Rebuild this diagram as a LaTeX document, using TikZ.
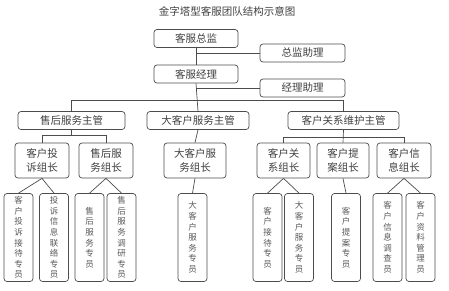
\documentclass[tikz,border=0pt]{standalone}
\usepackage{fontspec}
\usepackage{tikz}
\usetikzlibrary{positioning}
\newfontfamily\cjk{Noto Sans CJK SC}
\definecolor{lgray}{rgb}{0.3, 0.3, 0.3}
\tikzset{box/.style = {draw=lgray, rounded corners=3pt, line width=0.7pt, inner sep=0pt,
                       text=black!75, font=\cjk\fontsize{10.5}{13}\selectfont}}
\tikzset{zubox/.style = {box, align=center, minimum height=35,
                         font=\cjk\fontsize{10.5}{14}\selectfont}}
\tikzset{yuanbox/.style = {box, align=center, minimum width=29, minimum height=88,
                           text=black!65, font=\cjk\fontsize{8.5}{10.6}\selectfont}}
\tikzset{link/.style = {draw=lgray, line width=0.7pt}}
\tikzset{every picture/.style={x=1pt, y=-1pt}}

\begin{document}
\begin{tikzpicture}

      \useasboundingbox (0,0) rectangle (449,290);

      \node[text=black!75, font=\cjk\fontsize{10.5}{12}\selectfont] (title) at (227,11) {金字塔型客服团队结构示意图};

      \node[box, minimum width=84, minimum height=18] (zj)   at (196,38.5)  {客服总监};
      \node[box, minimum width=85, minimum height=18] (zjzl) at (302.5,53)  {总监助理};
      \node[box, minimum width=84, minimum height=18] (jl)   at (196,74)    {客服经理};
      \node[box, minimum width=85, minimum height=18] (jlzl) at (302.5,88)  {经理助理};

      \node[box, minimum width=107, minimum height=18] (shzg) at (71.5,120.5)  {售后服务主管};
      \node[box, minimum width=102, minimum height=18] (dkzg) at (198,120.5)   {大客户服务主管};
      \node[box, minimum width=111, minimum height=18] (gxzg) at (343.5,120.5) {客户关系维护主管};

      \node[zubox, minimum width=54] (tsz) at (42,160.5)    {客户投\\诉组长};
      \node[zubox, minimum width=54] (shz) at (106,160.5)   {售后服\\务组长};
      \node[zubox, minimum width=62] (dkz) at (195,160.5)   {大客户服\\务组长};
      \node[zubox, minimum width=53] (gxz) at (283.5,160.5) {客户关\\系组长};
      \node[zubox, minimum width=52] (taz) at (343,160.5)   {客户提\\案组长};
      \node[zubox, minimum width=54] (xxz) at (404,160.5)   {客户信\\息组长};

      \node[yuanbox] (jdy)  at (18.5,237.5)  {客\\户\\投\\诉\\接\\待\\专\\员};
      \node[yuanbox] (lly)  at (54,237.5)    {投\\诉\\信\\息\\联\\络\\专\\员};
      \node[yuanbox] (shy)  at (89.5,237.5)  {售\\后\\服\\务\\专\\员};
      \node[yuanbox] (dyy)  at (121.5,237.5) {售\\后\\服\\务\\调\\研\\专\\员};
      \node[yuanbox] (dky)  at (192.5,237.5) {大\\客\\户\\服\\务\\专\\员};
      \node[yuanbox] (khjd) at (267.5,237.5) {客\\户\\接\\待\\专\\员};
      \node[yuanbox] (dkfw) at (299,237.5)   {大\\客\\户\\服\\务\\专\\员};
      \node[yuanbox] (tay)  at (346,237.5)   {客\\户\\提\\案\\专\\员};
      \node[yuanbox] (dcy)  at (387.5,237.5) {客\\户\\信\\息\\调\\查\\员};
      \node[yuanbox] (gly)  at (420.5,237.5) {客\\户\\资\\料\\管\\理\\员};

      \coordinate (bar)   at (197,100);
      \coordinate (shbar) at (0,135);
      \coordinate (gxbar) at (0,137);

      \draw[link] (zj.south) -- (jl.north);
      \draw[link] (zj.south |- zjzl.west) -- (zjzl.west);
      \draw[link] (jl.south) -- (dkzg.north);
      \draw[link] (jl.south |- jlzl.west) -- (jlzl.west);
      \draw[link] (shzg.north) -- (shzg.north |- bar) -- (gxzg.north |- bar) -- (gxzg.north);

      \draw[link] (shzg.south) -- (shzg.south |- shbar);
      \draw[link] (tsz.north) -- (tsz.north |- shbar) -- (shz.north |- shbar) -- (shz.north);
      \draw[link] (dkzg.south) -- (dkz.north);
      \draw[link] (gxzg.south) -- (taz.north);
      \draw[link] (gxz.north) -- (gxz.north |- gxbar) -- (xxz.north |- gxbar) -- (xxz.north);

      \draw[link] (tsz.south) -- (jdy.north);
      \draw[link] (tsz.south) -- (lly.north);
      \draw[link] (shz.south) -- (shy.north);
      \draw[link] (shz.south) -- (dyy.north);
      \draw[link] (dkz.south) -- (dky.north);
      \draw[link] (gxz.south) -- (khjd.north);
      \draw[link] (gxz.south) -- (dkfw.north);
      \draw[link] (taz.south) -- (tay.north);
      \draw[link] (xxz.south) -- (dcy.north);
      \draw[link] (xxz.south) -- (gly.north);

    \end{tikzpicture}
\end{document}
